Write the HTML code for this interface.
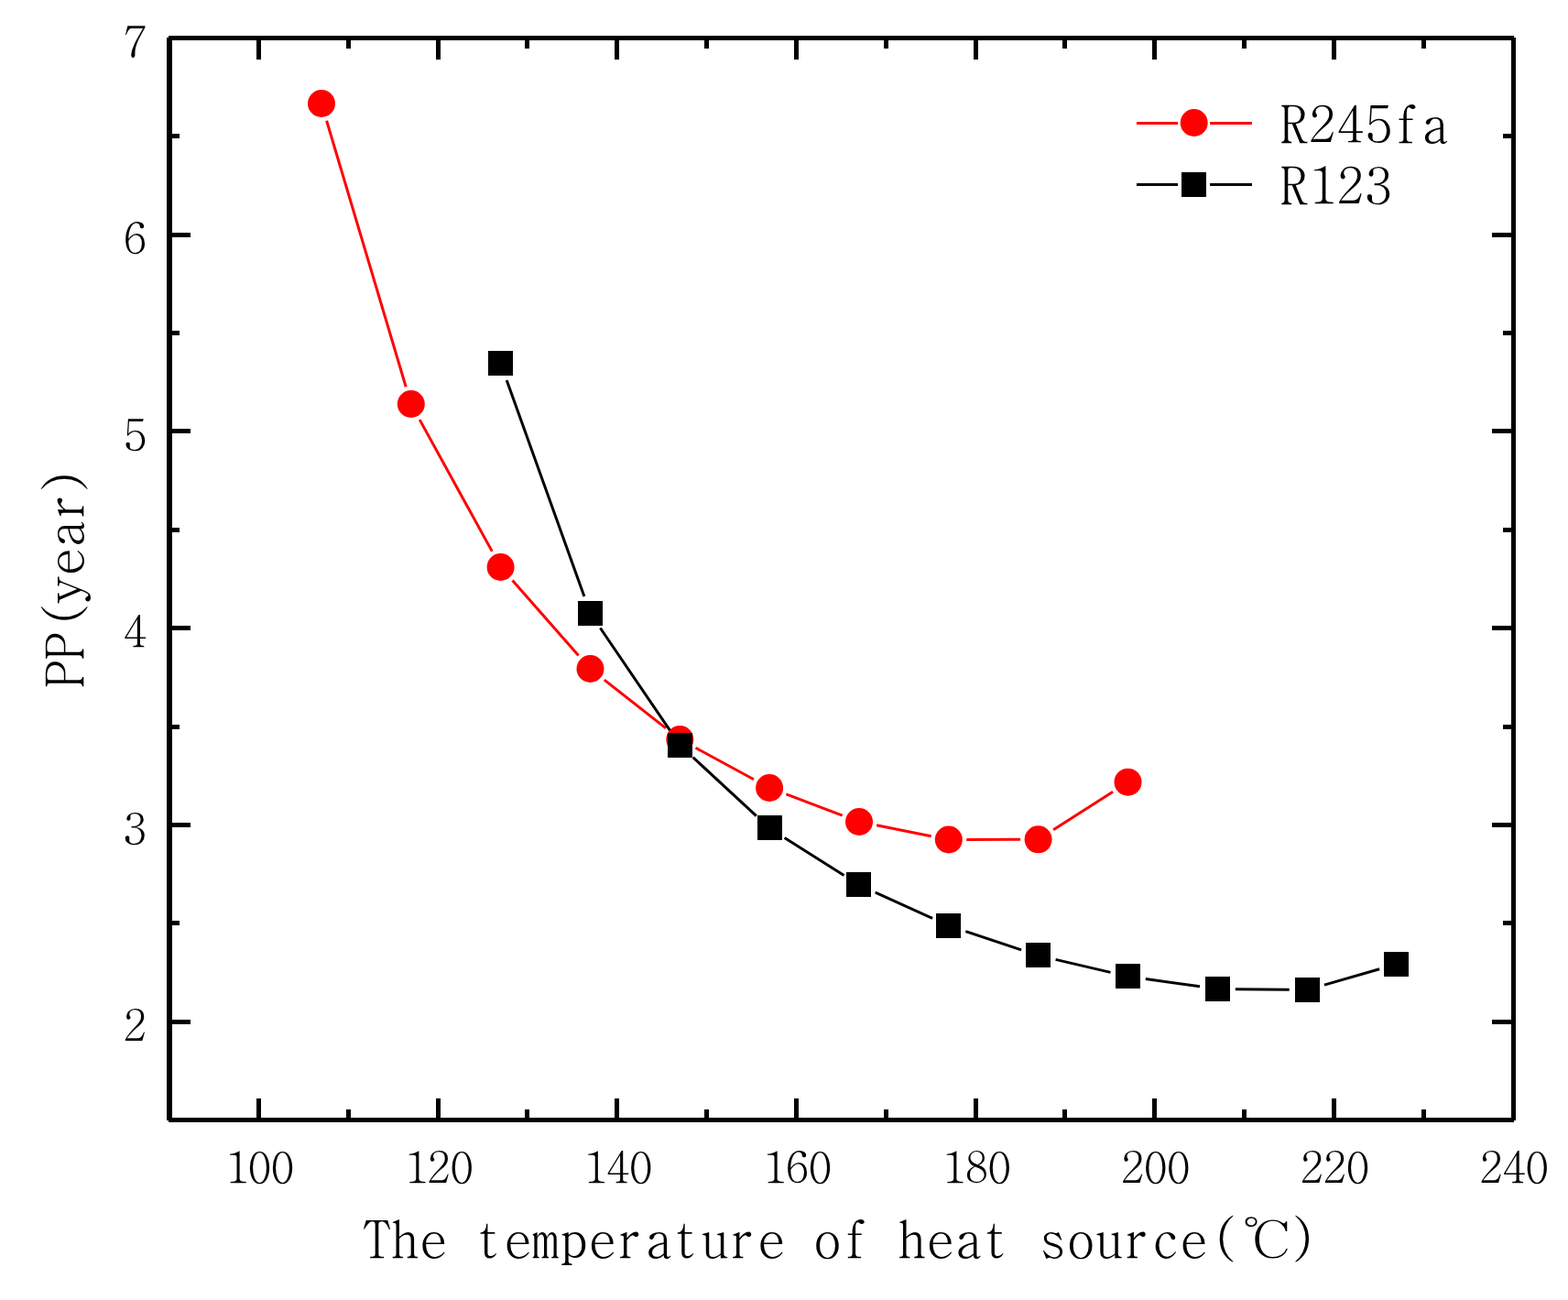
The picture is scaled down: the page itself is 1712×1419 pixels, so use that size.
<!DOCTYPE html><html><head><meta charset="utf-8"><title>PP vs heat source temperature</title><style>html,body{margin:0;padding:0;background:#fff;}svg{display:block;}</style></head><body>
<svg width="1712" height="1419" viewBox="0 0 1712 1419">
<rect x="0" y="0" width="1712" height="1419" fill="#fff"/>
<path d="M356.6 131.7L443.2 422.3M458.2 458.1L537.3 601.9M559.5 633.6L631.6 715.4M659.8 742.1L727.0 794.9M759.5 816.3L823.0 850.7M858.4 866.9L919.7 890.1M957.1 900.8L1016.7 912.7M1055.3 916.5L1114.1 916.3M1150.1 905.8L1215.1 864.2" stroke="#f00" stroke-width="3" fill="none"/>
<circle cx="351.0" cy="113.0" r="15" fill="#f00"/>
<circle cx="448.8" cy="441.0" r="15" fill="#f00"/>
<circle cx="546.6" cy="619.0" r="15" fill="#f00"/>
<circle cx="644.5" cy="730.0" r="15" fill="#f00"/>
<circle cx="742.3" cy="807.0" r="15" fill="#f00"/>
<circle cx="840.1" cy="860.0" r="15" fill="#f00"/>
<circle cx="938.0" cy="897.0" r="15" fill="#f00"/>
<circle cx="1035.8" cy="916.5" r="15" fill="#f00"/>
<circle cx="1133.6" cy="916.3" r="15" fill="#f00"/>
<circle cx="1231.5" cy="853.7" r="15" fill="#f00"/>
<path d="M553.2 414.9L637.9 651.0M655.4 685.5L731.4 797.2M756.6 826.6L825.8 890.7M856.6 914.4L921.5 955.6M955.7 974.1L1018.1 1002.4M1054.3 1016.6L1115.1 1036.8M1152.6 1047.4L1212.5 1061.4M1250.8 1068.6L1310.0 1076.8M1348.8 1079.7L1407.7 1080.3M1445.9 1075.1L1506.2 1057.7" stroke="#000" stroke-width="3" fill="none"/>
<rect x="533" y="383" width="27" height="27" fill="#000"/>
<rect x="631" y="656" width="27" height="27" fill="#000"/>
<rect x="729" y="800" width="27" height="27" fill="#000"/>
<rect x="827" y="890" width="27" height="27" fill="#000"/>
<rect x="924" y="952" width="27" height="27" fill="#000"/>
<rect x="1022" y="997" width="27" height="27" fill="#000"/>
<rect x="1120" y="1029" width="27" height="27" fill="#000"/>
<rect x="1218" y="1052" width="27" height="27" fill="#000"/>
<rect x="1316" y="1066" width="27" height="27" fill="#000"/>
<rect x="1414" y="1067" width="27" height="27" fill="#000"/>
<rect x="1511" y="1039" width="27" height="27" fill="#000"/>
<g fill="#000"><rect x="182" y="41" width="6" height="1182"/><rect x="184" y="39" width="1469" height="5"/><rect x="1650" y="41" width="5" height="1182"/><rect x="184" y="1220" width="1469" height="5"/><rect x="280" y="1199" width="5" height="21"/><rect x="280" y="44" width="5" height="21"/><rect x="378" y="1211" width="5" height="9"/><rect x="378" y="44" width="5" height="9"/><rect x="476" y="1199" width="5" height="21"/><rect x="476" y="44" width="5" height="21"/><rect x="573" y="1211" width="5" height="9"/><rect x="573" y="44" width="5" height="9"/><rect x="671" y="1199" width="5" height="21"/><rect x="671" y="44" width="5" height="21"/><rect x="769" y="1211" width="5" height="9"/><rect x="769" y="44" width="5" height="9"/><rect x="867" y="1199" width="5" height="21"/><rect x="867" y="44" width="5" height="21"/><rect x="965" y="1211" width="5" height="9"/><rect x="965" y="44" width="5" height="9"/><rect x="1063" y="1199" width="5" height="21"/><rect x="1063" y="44" width="5" height="21"/><rect x="1160" y="1211" width="5" height="9"/><rect x="1160" y="44" width="5" height="9"/><rect x="1258" y="1199" width="5" height="21"/><rect x="1258" y="44" width="5" height="21"/><rect x="1356" y="1211" width="5" height="9"/><rect x="1356" y="44" width="5" height="9"/><rect x="1454" y="1199" width="5" height="21"/><rect x="1454" y="44" width="5" height="21"/><rect x="1552" y="1211" width="5" height="9"/><rect x="1552" y="44" width="5" height="9"/><rect x="188" y="1113" width="20" height="5"/><rect x="1629" y="1113" width="21" height="5"/><rect x="188" y="1005" width="8" height="5"/><rect x="1641" y="1005" width="9" height="5"/><rect x="188" y="898" width="20" height="5"/><rect x="1629" y="898" width="21" height="5"/><rect x="188" y="791" width="8" height="5"/><rect x="1641" y="791" width="9" height="5"/><rect x="188" y="683" width="20" height="5"/><rect x="1629" y="683" width="21" height="5"/><rect x="188" y="576" width="8" height="5"/><rect x="1641" y="576" width="9" height="5"/><rect x="188" y="468" width="20" height="5"/><rect x="1629" y="468" width="21" height="5"/><rect x="188" y="361" width="8" height="5"/><rect x="1641" y="361" width="9" height="5"/><rect x="188" y="254" width="20" height="5"/><rect x="1629" y="254" width="21" height="5"/><rect x="188" y="146" width="8" height="5"/><rect x="1641" y="146" width="9" height="5"/></g>
<g font-family="BatangChe, 'Liberation Serif', 'Noto Serif CJK KR', serif" fill="#000" text-anchor="middle" style="white-space:pre;font-variant-ligatures:none;font-kerning:none"><text x="258.50 283.50 308.50" y="1292" font-size="50">100</text><text x="454.17 479.17 504.17" y="1292" font-size="50">120</text><text x="649.83 674.83 699.83" y="1292" font-size="50">140</text><text x="845.50 870.50 895.50" y="1292" font-size="50">160</text><text x="1041.17 1066.17 1091.17" y="1292" font-size="50">180</text><text x="1236.83 1261.83 1286.83" y="1292" font-size="50">200</text><text x="1432.50 1457.50 1482.50" y="1292" font-size="50">220</text><text x="1628.17 1653.17 1678.17" y="1292" font-size="50">240</text><text x="147.5" y="1136.5" font-size="50">2</text><text x="147.5" y="921.8" font-size="50">3</text><text x="147.5" y="707.0" font-size="50">4</text><text x="147.5" y="492.2" font-size="50">5</text><text x="147.5" y="277.5" font-size="50">6</text><text x="147.5" y="62.8" font-size="50">7</text><text x="411.50 442.25 473.00 503.75 534.50 565.25 596.00 626.75 657.50 688.25 719.00 749.75 780.50 811.25 842.00 872.75 903.50 934.25 965.00 995.75 1026.50 1057.25 1088.00 1118.75 1149.50 1180.25 1211.00 1241.75 1272.50 1303.25 1339.00" y="1373" font-size="58">The temperature of heat source(</text><text transform="translate(1349 1373) scale(1.17 1)" x="0" y="0" font-size="58" text-anchor="start">℃</text><text x="1421.75" y="1373" font-size="58">)</text><text x="1413.00 1443.75 1474.50 1505.25 1536.00 1566.75" y="156" font-size="58">R245fa</text><text x="1413.00 1443.75 1474.50 1505.25" y="223" font-size="58">R123</text><text transform="translate(91 750) rotate(-90)" x="14.50 45.00 80.50 106.00 136.50 167.00 197.50 223.50" y="0" font-size="58">PP(year)</text></g>
<path d="M1241 134.5H1286M1321 134.5H1367" stroke="#f00" stroke-width="3"/>
<circle cx="1303.7" cy="134" r="15" fill="#f00"/>
<path d="M1241 201.5H1286M1321 201.5H1367" stroke="#000" stroke-width="3"/>
<rect x="1290" y="188" width="27" height="27" fill="#000"/>
</svg></body></html>
